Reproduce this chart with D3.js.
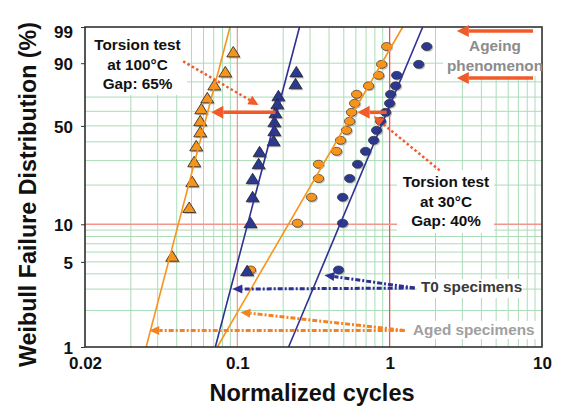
<!DOCTYPE html>
<html>
<head>
<meta charset="utf-8">
<script src="https://cdn.jsdelivr.net/npm/d3@7"></script>
<style>
body{margin:0;background:#fff;}
text{font-family:"Liberation Sans", Arial, sans-serif;font-weight:bold;}
</style>
</head>
<body>
<div id="chart"></div>
<script>
// axis ticks (left label of the original reads 0.02)
var xTickVals = [0.01, 0.1, 1, 10];
var xTickText = ["0.02", "0.1", "1", "10"];
var yTickVals = [1, 5, 10, 50, 90, 99];
var yGridVals = [2, 3, 4, 5, 6, 7, 8, 9, 20, 30, 40, 50, 60, 70, 80, 90];
var xRed = [0.1, 1];
var yRed = [10];

// torsion test at 100°C (triangles)
var agedTriX = [0.0941, 0.0834, 0.0706, 0.0635, 0.0580, 0.0571, 0.0571, 0.0537, 0.0521, 0.0506, 0.0483, 0.0374];
var agedTriF = [94.1, 85.5, 77.8, 69.1, 61.4, 53.1, 45.8, 37.4, 29.2, 21.0, 13.4, 5.5];
var t0TriX = [0.244, 0.241, 0.186, 0.183, 0.178, 0.175, 0.175, 0.173, 0.140, 0.138, 0.126, 0.126, 0.122, 0.116];
var t0TriF = [85.5, 78.5, 70.5, 64.9, 58.6, 52.4, 46.5, 40.3, 34.2, 28.3, 22.1, 16.2, 10.2, 4.2];

// torsion test at 30°C (circles)
var circF = [95.8, 89.5, 83.9, 77.5, 71.9, 65.6, 59.3, 53.1, 47.1, 40.9, 34.7, 28.3, 22.4, 16.2, 10.2, 4.3];
var agedCircX = [0.956, 0.886, 0.847, 0.727, 0.607, 0.589, 0.562, 0.546, 0.521, 0.476, 0.448, 0.341, 0.341, 0.307, 0.248, 0.122];
var t0CircX = [1.751, 1.552, 1.112, 1.095, 1.015, 1.000, 0.941, 0.873, 0.821, 0.785, 0.695, 0.616, 0.546, 0.491, 0.491, 0.462];

// weibull fit lines : cycles at 1% and 99%
var fitF = [1, 99];
var agedTriFit = [0.0252, 0.0895];
var t0TriFit = [0.0717, 0.256];
var agedCircFit = [0.0739, 1.218];
var t0CircFit = [0.217, 1.648];

var width = 563, height = 408;
var orange = "#f7941d", blue = "#2e3192", red = "#f15a29";

var svg = d3.select("#chart").append("svg")
    .attr("width", width).attr("height", height);

var x = d3.scaleLog().domain([0.01, 10]).range([85, 542]);
function w(F){ return Math.log(-Math.log(1 - F / 100)); }
var yLin = d3.scaleLinear().domain([w(1), w(99)]).range([347, 27]);
function y(F){ return yLin(w(F)); }

// grid
svg.append("g").selectAll("line").data(x.ticks().filter(function(d){ return xRed.indexOf(d) < 0; }))
  .enter().append("line")
  .attr("x1", d => x(d)).attr("x2", d => x(d)).attr("y1", 27).attr("y2", 347)
  .attr("stroke", "#aadcb8").attr("stroke-width", 1);
svg.append("g").selectAll("line").data(yGridVals).enter().append("line")
  .attr("x1", 85).attr("x2", 542).attr("y1", d => y(d)).attr("y2", d => y(d))
  .attr("stroke", "#aadcb8").attr("stroke-width", 1);
svg.append("g").selectAll("line").data(xRed).enter().append("line")
  .attr("x1", d => x(d)).attr("x2", d => x(d)).attr("y1", 27).attr("y2", 347)
  .attr("stroke", (d, i) => i == 0 ? "#f4948a" : "#e84a3c").attr("stroke-width", 1.2);
svg.append("g").selectAll("line").data(yRed).enter().append("line")
  .attr("x1", 85).attr("x2", 542).attr("y1", d => y(d)).attr("y2", d => y(d))
  .attr("stroke", "#f4948a").attr("stroke-width", 1.5);

// white boxes under the annotations
var boxes = [[86, 28, 101, 67], [397, 170, 97, 63], [443, 28, 99, 48], [417, 279, 106, 19], [410, 321, 128, 18]];
svg.append("g").selectAll("rect").data(boxes).enter().append("rect")
  .attr("x", d => d[0]).attr("y", d => d[1]).attr("width", d => d[2]).attr("height", d => d[3])
  .attr("fill", "#fff");

// markers
var triPath = "M0,-6L6.5,4.5L-6.5,4.5Z";
function drawTri(xs, Fs, color){
  var g = svg.append("g");
  var pts = xs.map((v, i) => [x(v), y(Fs[i])]);
  g.selectAll(".sh").data(pts).enter().append("path").attr("d", triPath)
    .attr("transform", d => "translate(" + (d[0] + 1.5) + "," + (d[1] + 1.5) + ")")
    .attr("fill", "#999").attr("opacity", 0.6);
  g.selectAll(".mk").data(pts).enter().append("path").attr("d", triPath)
    .attr("transform", d => "translate(" + d[0] + "," + d[1] + ")")
    .attr("fill", color).attr("stroke", "#222").attr("stroke-width", 0.8);
}
function drawCirc(xs, Fs, color){
  var g = svg.append("g");
  var pts = xs.map((v, i) => [x(v), y(Fs[i])]);
  g.selectAll(".sh").data(pts).enter().append("ellipse")
    .attr("cx", d => d[0] + 1.3).attr("cy", d => d[1] + 1.3).attr("rx", 5.2).attr("ry", 4)
    .attr("fill", "#999").attr("opacity", 0.6);
  g.selectAll(".mk").data(pts).enter().append("ellipse")
    .attr("cx", d => d[0]).attr("cy", d => d[1]).attr("rx", 5.2).attr("ry", 4)
    .attr("fill", color).attr("stroke", "#333").attr("stroke-width", 0.7);
}
drawCirc(agedCircX, circF, orange);
drawCirc(t0CircX, circF, "#2b3990");
drawTri(agedTriX, agedTriF, orange);
drawTri(t0TriX, t0TriF, "#2b3990");

// fit lines
var fits = [[agedTriFit, orange], [t0TriFit, blue], [agedCircFit, orange], [t0CircFit, blue]];
fits.forEach(function(f){
  svg.append("line")
    .attr("x1", x(f[0][0])).attr("y1", y(fitF[0]))
    .attr("x2", x(f[0][1])).attr("y2", y(fitF[1]))
    .attr("stroke", f[1]).attr("stroke-width", 1.6);
});

// frame
svg.append("rect").attr("x", 85).attr("y", 27).attr("width", 457).attr("height", 320)
  .attr("fill", "none").attr("stroke", "#333").attr("stroke-width", 1.6);

// axes
var xAxis = d3.axisBottom(x).tickValues(xTickVals).tickSize(0).tickPadding(10)
  .tickFormat((d, i) => xTickText[i]);
var gx = svg.append("g").attr("transform", "translate(0,347)").call(xAxis);
gx.select(".domain").remove();
gx.selectAll("text").attr("font-size", "17px").attr("fill", "#111")
  .style("font-family", "'Liberation Sans', Arial, sans-serif").style("font-weight", "bold");

var yAxis = d3.axisLeft(yLin).tickValues(yTickVals.map(w)).tickSizeInner(4).tickSizeOuter(0).tickPadding(8)
  .tickFormat((d, i) => yTickVals[i]);
var gy = svg.append("g").attr("transform", "translate(85,0)").call(yAxis);
gy.select(".domain").remove();
gy.selectAll("line").attr("stroke", "#333");
gy.selectAll("text").attr("font-size", "17px").attr("fill", "#111")
  .style("font-family", "'Liberation Sans', Arial, sans-serif").style("font-weight", "bold")
  .attr("dy", (d, i) => yTickVals[i] == 99 ? "0.62em" : "0.36em");

svg.append("text").attr("x", 312).attr("y", 401).attr("text-anchor", "middle")
  .attr("font-size", "23.5px").attr("fill", "#111").text("Normalized cycles");
svg.append("text").attr("transform", "translate(36,194.5) rotate(-90)").attr("text-anchor", "middle")
  .attr("font-size", "23.3px").attr("fill", "#111").text("Weibull Failure Distribution (%)");

// arrows
function arrow(x1, F1, x2, F2, color, sw, dash, hl, hw){
  var p1 = [x(x1), y(F1)], p2 = [x(x2), y(F2)];
  var ang = Math.atan2(p2[1] - p1[1], p2[0] - p1[0]);
  var bx = p2[0] - hl * Math.cos(ang), by = p2[1] - hl * Math.sin(ang);
  svg.append("line").attr("x1", p1[0]).attr("y1", p1[1]).attr("x2", bx).attr("y2", by)
    .attr("stroke", color).attr("stroke-width", sw).attr("stroke-dasharray", dash);
  var nx = -Math.sin(ang) * hw / 2, ny = Math.cos(ang) * hw / 2;
  svg.append("path")
    .attr("d", "M" + p2[0] + "," + p2[1] + "L" + (bx + nx) + "," + (by + ny) + "L" + (bx - nx) + "," + (by - ny) + "Z")
    .attr("fill", color);
}
arrow(0.178, 59.3, 0.0675, 59.3, red, 3.5, null, 12, 13);
arrow(0.956, 59.3, 0.616, 59.3, red, 3.5, null, 12, 13);
arrow(8.73, 98.6, 2.76, 98.6, red, 3.5, null, 12, 12);
arrow(8.73, 82.3, 2.76, 82.3, red, 3.5, null, 12, 12);
arrow(0.0441, 90.8, 0.1375, 64.4, red, 2.5, "2.5,2.5", 10, 10);
arrow(2.13, 25.6, 0.785, 56.5, red, 2.5, "2.5,2.5", 10, 10);
arrow(1.46, 3.06, 0.0927, 3.0, blue, 3, "5,2,2,2", 10, 9);
arrow(1.46, 3.06, 0.373, 3.9, blue, 3, "5,2,2,2", 10, 9);
arrow(1.255, 1.37, 0.0264, 1.37, "#f58220", 3, "5,2,2,2", 10, 9);
arrow(1.255, 1.37, 0.1047, 1.94, "#f58220", 3, "5,2,2,2", 10, 9);

// annotation texts
function label(lines, cx, y0, color, anchor){
  var t = svg.append("text").attr("font-size", "15.3px").attr("fill", color).attr("text-anchor", anchor);
  lines.forEach(function(s, i){
    t.append("tspan").attr("x", cx).attr("y", y0 + i * 19.5).text(s);
  });
}
label(["Torsion test", "at 100°C", "Gap: 65%"], 137.5, 50, "#111", "middle");
label(["Torsion test", "at 30°C", "Gap: 40%"], 446, 187, "#111", "middle");
label(["Ageing", "phenomenon"], 495, 51, "#8c8c8c", "middle");
label(["T0 specimens"], 421, 292, "#3a3a3a", "start");
label(["Aged specimens"], 413, 335, "#a0a0a0", "start");
</script>
</body>
</html>
